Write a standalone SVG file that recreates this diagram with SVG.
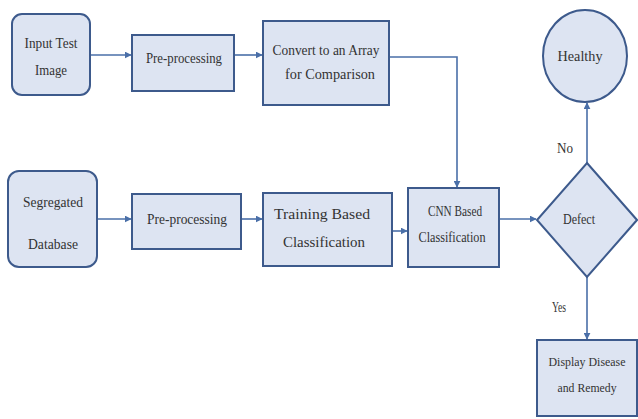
<svg xmlns="http://www.w3.org/2000/svg" width="638" height="419" viewBox="0 0 638 419">
<style>
.n{fill:#dde4f2;stroke:#3d5a8c;stroke-width:2}
.t{font-family:"Times New Roman","Liberation Serif",serif;font-size:15px;fill:#333;text-anchor:middle}
.s{font-size:13.5px}
.c{fill:none;stroke:#4a6fa8;stroke-width:1.6}
</style>
<defs>
<marker id="a" viewBox="0 0 10 10" refX="9" refY="5" markerWidth="7" markerHeight="7" markerUnits="userSpaceOnUse" orient="auto">
<path d="M0,0 L10,5 L0,10 z" fill="#4a6fa8"/>
</marker>
</defs>
<rect width="638" height="419" fill="#fff"/>
<g font-family="Times New Roman, Liberation Serif, serif">
<g id="connectors">
<path class="c" d="M90,55 H131" marker-end="url(#a)"/>
<path class="c" d="M234,55 H262" marker-end="url(#a)"/>
<path class="c" d="M389,57 H457 V187" marker-end="url(#a)"/>
<path class="c" d="M97,219 H131" marker-end="url(#a)"/>
<path class="c" d="M241,219 H262" marker-end="url(#a)"/>
<path class="c" d="M392,231 H407" marker-end="url(#a)"/>
<path class="c" d="M499,219 H536" marker-end="url(#a)"/>
<path class="c" d="M587,163 V103" marker-end="url(#a)"/>
<path class="c" d="M587,277 V339" marker-end="url(#a)"/>
<text class="t" x="565" y="153" textLength="16" lengthAdjust="spacingAndGlyphs">No</text>
<text class="t" x="559" y="312" textLength="14" lengthAdjust="spacingAndGlyphs">Yes</text>
</g>
<g id="input">
<rect class="n" x="12" y="14" width="78" height="81" rx="10"/>
<text class="t" x="51" y="48" textLength="53" lengthAdjust="spacingAndGlyphs">Input Test</text>
<text class="t" x="51" y="75" textLength="32" lengthAdjust="spacingAndGlyphs">Image</text>
</g>
<g id="pre1">
<rect class="n" x="132" y="35" width="102" height="56"/>
<text class="t" x="184" y="63" textLength="76" lengthAdjust="spacingAndGlyphs">Pre-processing</text>
</g>
<g id="convert">
<rect class="n" x="263" y="21" width="126" height="84"/>
<text class="t" x="326" y="55" textLength="107" lengthAdjust="spacingAndGlyphs">Convert to an Array</text>
<text class="t" x="330" y="79" textLength="90" lengthAdjust="spacingAndGlyphs">for Comparison</text>
</g>
<g id="healthy">
<ellipse class="n" cx="585" cy="56" rx="42" ry="46"/>
<text class="t" x="580" y="61" textLength="45" lengthAdjust="spacingAndGlyphs">Healthy</text>
</g>
<g id="segregated">
<rect class="n" x="8" y="171" width="89" height="96" rx="11"/>
<text class="t" x="53" y="207" textLength="60" lengthAdjust="spacingAndGlyphs">Segregated</text>
<text class="t" x="53" y="249" textLength="50" lengthAdjust="spacingAndGlyphs">Database</text>
</g>
<g id="pre2">
<rect class="n" x="132" y="194" width="109" height="55"/>
<text class="t" x="187" y="224" textLength="80" lengthAdjust="spacingAndGlyphs">Pre-processing</text>
</g>
<g id="training">
<rect class="n" x="263" y="193" width="129" height="73"/>
<text class="t" x="322" y="219" textLength="96" lengthAdjust="spacingAndGlyphs">Training Based</text>
<text class="t" x="324" y="247" textLength="82" lengthAdjust="spacingAndGlyphs">Classification</text>
</g>
<g id="cnn">
<rect class="n" x="408" y="188" width="91" height="79"/>
<text class="t" x="455" y="216" textLength="54" lengthAdjust="spacingAndGlyphs">CNN Based</text>
<text class="t" x="452" y="242" textLength="67" lengthAdjust="spacingAndGlyphs">Classification</text>
</g>
<g id="defect">
<path class="n" d="M587,163 L637,220 L587,277 L537,220 Z"/>
<text class="t" x="579" y="224" textLength="32" lengthAdjust="spacingAndGlyphs">Defect</text>
</g>
<g id="display">
<rect class="n" x="537" y="340" width="100" height="76"/>
<text class="t s" x="587" y="366" textLength="77" lengthAdjust="spacingAndGlyphs">Display Disease</text>
<text class="t s" x="587" y="392" textLength="59" lengthAdjust="spacingAndGlyphs">and Remedy</text>
</g>
</g>
</svg>
